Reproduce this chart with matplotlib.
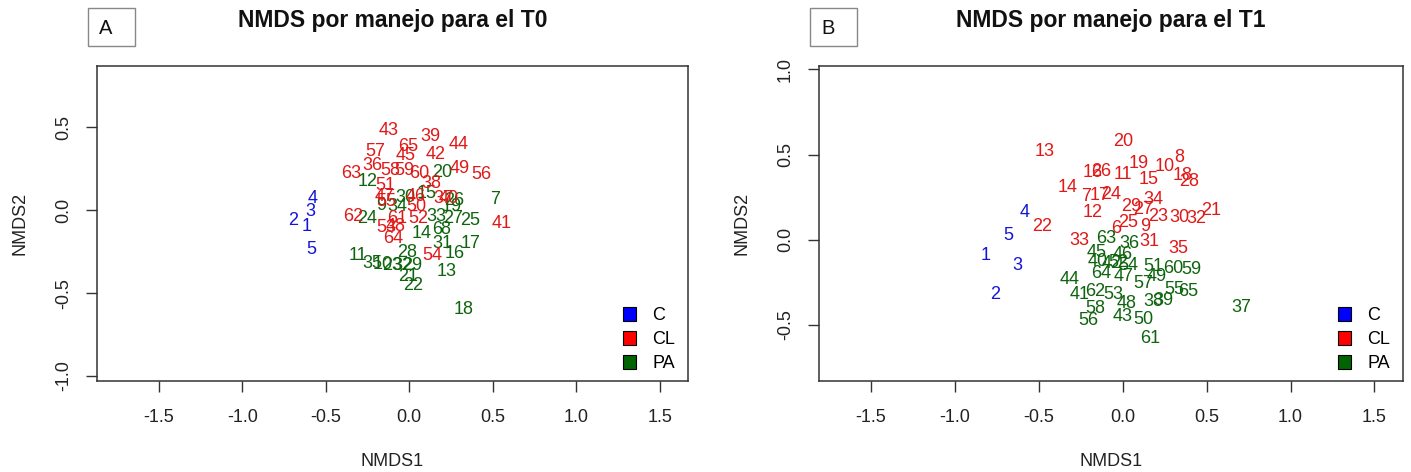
import matplotlib
matplotlib.use("Agg")
import matplotlib.pyplot as plt
from matplotlib.patches import Patch, Rectangle

plt.rcParams["font.family"] = ["Liberation Sans", "DejaVu Sans"]

# ---- data -------------------------------------------------------------
samples = list(range(1, 66))

# NMDS scores at T0 (sample 1..65)
t0_nmds1 = [-0.617, -0.697, -0.593, -0.579, -0.587,
            0.170, 0.515, 0.215, -0.170, -0.160, -0.305, -0.250, 0.226, 0.076, 0.106,
            0.275, 0.365, 0.329, 0.255, 0.196, -0.004, 0.026, -0.104, -0.250, 0.365,
            0.270, 0.265, -0.010, 0.016, -0.024, 0.196, -0.040, 0.165, -0.070, -0.223,
            -0.218, 0.205, 0.130, 0.130, 0.235, 0.555, 0.156, -0.124, 0.295, -0.024,
            0.040, -0.150, -0.084, 0.301, 0.046, -0.144, 0.056, -0.135, 0.136, -0.140,
            0.431, -0.204, -0.114, -0.030, 0.062, -0.074, -0.333, -0.349, -0.094, -0.008]
t0_nmds2 = [-0.096, -0.064, -0.010, 0.070, -0.237,
            -0.115, 0.064, -0.115, 0.030, -0.330, -0.276, 0.171, -0.371, -0.140, 0.100,
            -0.261, -0.201, -0.596, 0.020, 0.225, -0.401, -0.451, -0.331, -0.050, -0.060,
            0.060, -0.050, -0.256, -0.331, 0.076, -0.201, -0.335, -0.040, 0.025, -0.321,
            0.271, 0.068, 0.164, 0.446, 0.070, -0.080, 0.337, 0.478, 0.398, 0.331,
            0.085, 0.084, -0.100, 0.251, 0.020, 0.151, -0.050, -0.105, -0.276, 0.050,
            0.217, 0.357, 0.241, 0.241, 0.221, -0.050, -0.040, 0.221, -0.171, 0.386]
t0_group = (["C"] * 5) + (["PA"] * 30) + (["CL"] * 30)

# NMDS scores at T1 (sample 1..65)
t1_nmds1 = [-0.815, -0.762, -0.627, -0.587, -0.683,
            -0.042, -0.220, 0.335, 0.131, 0.250, 0.002, -0.181, -0.464, -0.331, 0.157,
            -0.177, -0.141, 0.355, 0.097, 0.002, 0.528, -0.478, 0.210, -0.067, 0.032,
            -0.127, 0.121, 0.395, 0.052, 0.339, 0.161, 0.438, -0.260, 0.180, 0.329,
            0.042, 0.707, 0.180, 0.240, -0.147, -0.256, -0.067, 0.002, -0.315, -0.157,
            0.002, 0.002, 0.022, 0.200, 0.121, 0.180, -0.028, -0.058, 0.032, 0.310,
            -0.206, 0.121, -0.161, 0.409, 0.300, 0.161, -0.167, -0.101, -0.127, 0.389]
t1_nmds2 = [-0.095, -0.320, -0.154, 0.162, 0.024,
            0.063, 0.256, 0.483, 0.079, 0.430, 0.385, 0.158, 0.517, 0.306, 0.355,
            0.395, 0.260, 0.379, 0.450, 0.576, 0.173, 0.079, 0.134, 0.266, 0.102,
            0.398, 0.178, 0.339, 0.197, 0.128, -0.010, 0.122, -0.004, 0.237, -0.049,
            -0.020, -0.398, -0.365, -0.355, -0.128, -0.320, -0.138, -0.454, -0.233, -0.075,
            -0.089, -0.217, -0.375, -0.217, -0.469, -0.158, -0.134, -0.320, -0.154, -0.292,
            -0.477, -0.260, -0.404, -0.174, -0.168, -0.582, -0.306, 0.004, -0.197, -0.306]
t1_group = (["C"] * 5) + (["CL"] * 30) + (["PA"] * 30)

groups = ["C", "CL", "PA"]
ticks = [-1.5, -1.0, -0.5, 0.0, 0.5, 1.0, 1.5]

# ---- styling ----------------------------------------------------------
fill_col = {"C": "#0000ff", "CL": "#ff0000", "PA": "#006400"}
text_col = {"C": "#1414d8", "CL": "#e01818", "PA": "#0d640d"}
W, H = 1411, 472
fig = plt.figure(figsize=(W / 100, H / 100), dpi=100)


def fx(px):
    return px / W


def fy(py):
    return 1 - py / H


def panel(left, right, xlim, ylim, xs, ys, grp, title, tag, tag_box):
    ax = fig.add_axes([fx(left), fy(381), fx(right - left), (381 - 66) / H])
    for s, x, y, g in zip(samples, xs, ys, grp):
        ax.text(x, y, str(s), color=text_col[g], fontsize=13,
                ha="center", va="center")
    ax.set_xlim(*xlim)
    ax.set_ylim(*ylim)
    ax.set_xticks(ticks)
    ax.set_xticklabels([f"{t:.1f}" for t in ticks])
    yt = [t for t in [-1.0, -0.5, 0.0, 0.5, 1.0] if ylim[0] <= t <= ylim[1]]
    ax.set_yticks(yt)
    ax.set_yticklabels([f"{t:.1f}" for t in yt])
    ax.tick_params(axis="both", length=8, width=1, color="#333333",
                   labelsize=13, labelcolor="#222222")
    ax.tick_params(axis="x", pad=12)
    ax.tick_params(axis="y", pad=10, labelrotation=90)
    for lbl in ax.get_yticklabels():
        lbl.set_va("center")
    for sp in ax.spines.values():
        sp.set_color("#333333")
        sp.set_linewidth(1.1)
    handles = [Patch(facecolor=fill_col[g], edgecolor="black", linewidth=0.8)
               for g in groups]
    ax.legend(handles, groups, loc="lower right", bbox_to_anchor=(1.0, -0.012),
              frameon=False, fontsize=13, handlelength=0.75, handleheight=0.85,
              handletextpad=0.9, labelspacing=0.36, borderaxespad=0.3)
    cx = (left + right) / 2
    fig.text(fx(cx), fy(21), title, fontsize=16.5, fontweight="bold",
             ha="center", va="center", color="#111111")
    fig.text(fx(cx), fy(462), "NMDS1", fontsize=13, ha="center", va="center",
             color="#222222")
    fig.text(fx(left - 77), fy(223), "NMDS2", fontsize=13, ha="center",
             va="center", rotation=90, color="#222222")
    bx0, bx1 = tag_box
    fig.patches.append(Rectangle((fx(bx0), fy(46)), fx(bx1 - bx0), 38 / H,
                                 transform=fig.transFigure, fill=False,
                                 edgecolor="#888888", linewidth=1))
    fig.text(fx(bx0 + 18), fy(28), tag, fontsize=14.5, ha="center", va="center",
             color="#111111")
    return ax


panel(97, 688, (-1.87, 1.67), (-1.03, 0.87), t0_nmds1, t0_nmds2, t0_group,
      "NMDS por manejo para el T0", "A", (88, 135))
panel(819, 1403, (-1.81, 1.67), (-0.83, 1.02), t1_nmds1, t1_nmds2, t1_group,
      "NMDS por manejo para el T1", "B", (810, 857))

fig.savefig("out.png", dpi=100)
